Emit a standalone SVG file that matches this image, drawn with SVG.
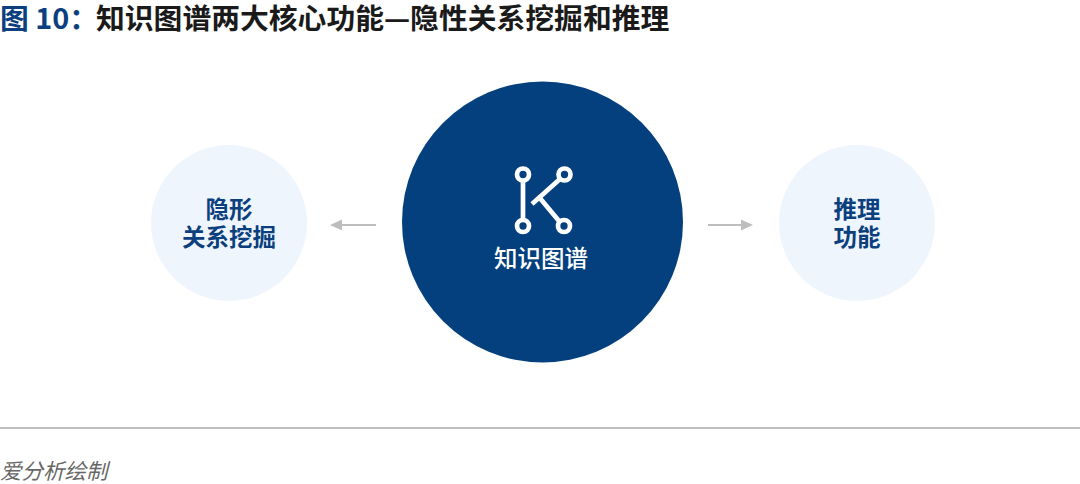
<svg xmlns="http://www.w3.org/2000/svg" width="1080" height="484" viewBox="0 0 1080 484">
<style>
text{font-family:"Noto Sans CJK SC","Noto Sans",sans-serif}
.t{font-size:28.800px;font-weight:700}
.n{font-size:23.500px;font-weight:700;fill:#0b3f7e;text-anchor:middle}
.a{stroke:#bdbdbd;stroke-width:2;fill:none}
.h{fill:#bdbdbd}
.i{stroke:#fff;fill:none}
</style>
<rect width="1080" height="484" fill="#fff"/>
<g id="title">
<text class="t" x="0" y="29" fill="#0b3f7e" font-weight="500">图 10：</text>
<text class="t" x="96" y="29" fill="#1a1a1a">知识图谱两大核心功能—隐性关系挖掘和推理</text>
</g>
<g id="node-left">
<circle cx="229" cy="223" r="78" fill="#eef5fc"/>
<text class="n" x="229" y="218">隐形</text>
<text class="n" x="229" y="246">关系挖掘</text>
</g>
<g id="node-center">
<circle cx="542.500" cy="222" r="140.500" fill="#03407d"/>
<g class="i" stroke-width="4.700">
<path d="M523 180V220"/>
<path d="M560 179L532 204"/>
<path d="M539 197L559 221"/>
<circle cx="523" cy="174.500" r="6"/><circle cx="564.500" cy="174.500" r="6"/>
<circle cx="523" cy="226" r="6"/><circle cx="564" cy="226" r="6"/>
</g>
<text x="541" y="267" font-size="23.500" font-weight="500" fill="#fff" text-anchor="middle">知识图谱</text>
</g>
<g id="node-right">
<circle cx="857" cy="223" r="78" fill="#eef5fc"/>
<text class="n" x="857" y="218">推理</text>
<text class="n" x="857" y="246">功能</text>
</g>
<g id="connectors">
<path class="a" d="M376 225H340"/><path class="h" d="M330 225L342 219.500V230.500Z"/>
<path class="a" d="M708 225H744"/><path class="h" d="M753 225L741 219.500V230.500Z"/>
</g>
<g id="footer">
<path d="M0 428H1080" stroke="#a8a8a8" stroke-width="1.500"/>
<text x="0" y="479" font-size="21.500" font-style="italic" fill="#666">爱分析绘制</text>
</g>
</svg>
